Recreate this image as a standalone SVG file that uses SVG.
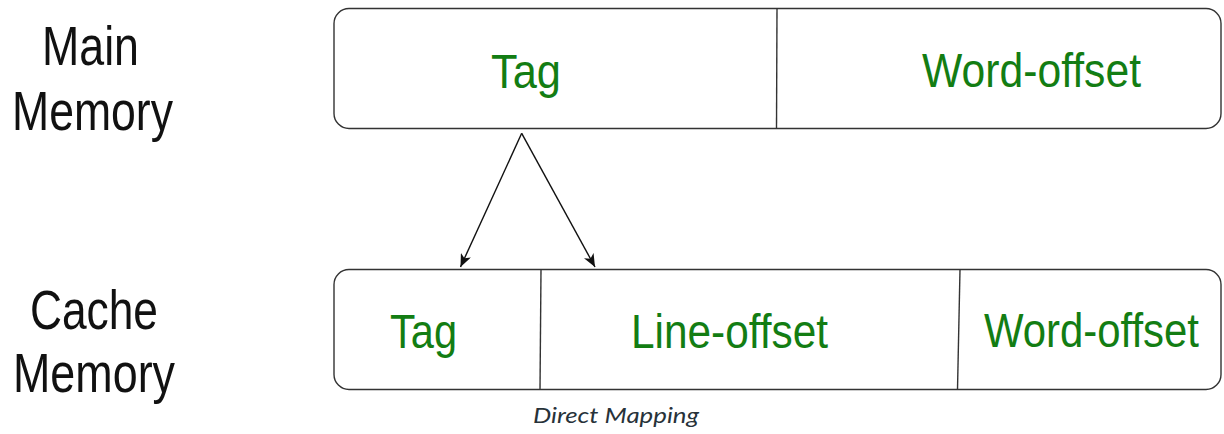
<svg xmlns="http://www.w3.org/2000/svg" width="1224" height="434" viewBox="0 0 1224 434">
  <style>
    .box { fill: #ffffff; stroke: #333333; stroke-width: 1.4; }
    .div { stroke: #333333; stroke-width: 1.4; }
    .side { font-family: "Liberation Sans", Arial, sans-serif; font-size: 56px; fill: #111111; }
    .field { font-family: "Liberation Sans", Arial, sans-serif; font-size: 48px; fill: #137d13; }
    .caption { font-family: "Lato", "Open Sans", sans-serif; font-style: italic; font-size: 21px; fill: #273239; }
    .conn { stroke: #111111; stroke-width: 1.4; fill: none; }
  </style>
  <defs>
    <marker id="arrow" viewBox="0 0 13 11" refX="13" refY="5.5" markerWidth="13" markerHeight="11" markerUnits="userSpaceOnUse" orient="auto">
      <path d="M0,0 L13,5.5 L0,11 L3.5,5.5 Z" fill="#111111"/>
    </marker>
  </defs>
  <rect width="1224" height="434" fill="#ffffff"/>

  <!-- side labels -->
  <g id="label-main">
    <text class="side" x="42" y="65" textLength="97" lengthAdjust="spacingAndGlyphs">Main</text>
    <text class="side" x="12" y="130" textLength="161" lengthAdjust="spacingAndGlyphs">Memory</text>
  </g>
  <g id="label-cache">
    <text class="side" x="30" y="329" textLength="128" lengthAdjust="spacingAndGlyphs">Cache</text>
    <text class="side" x="13" y="392" textLength="162" lengthAdjust="spacingAndGlyphs">Memory</text>
  </g>

  <!-- main memory address format -->
  <g id="main-address">
    <rect class="box" x="334" y="8.5" width="887" height="120" rx="15" ry="15"/>
    <line class="div" x1="777" y1="8.5" x2="776.5" y2="128.5"/>
    <text class="field" x="491" y="88" textLength="70" lengthAdjust="spacingAndGlyphs">Tag</text>
    <text class="field" x="922" y="87" textLength="219" lengthAdjust="spacingAndGlyphs">Word-offset</text>
  </g>

  <!-- cache address format -->
  <g id="cache-address">
    <rect class="box" x="334" y="269.5" width="887" height="120" rx="15" ry="15"/>
    <line class="div" x1="541" y1="269.5" x2="540" y2="389.5"/>
    <line class="div" x1="960" y1="269.5" x2="957.5" y2="389.5"/>
    <text class="field" x="390" y="348" textLength="67" lengthAdjust="spacingAndGlyphs">Tag</text>
    <text class="field" x="631" y="348" textLength="197" lengthAdjust="spacingAndGlyphs">Line-offset</text>
    <text class="field" x="984" y="347" textLength="215" lengthAdjust="spacingAndGlyphs">Word-offset</text>
  </g>

  <!-- connectors -->
  <g id="connectors">
    <line class="conn" x1="521.7" y1="133.3" x2="460.5" y2="267" marker-end="url(#arrow)"/>
    <line class="conn" x1="521.7" y1="133.3" x2="595" y2="267" marker-end="url(#arrow)"/>
  </g>

  <text class="caption" x="533" y="423" textLength="166" lengthAdjust="spacingAndGlyphs">Direct Mapping</text>
</svg>
